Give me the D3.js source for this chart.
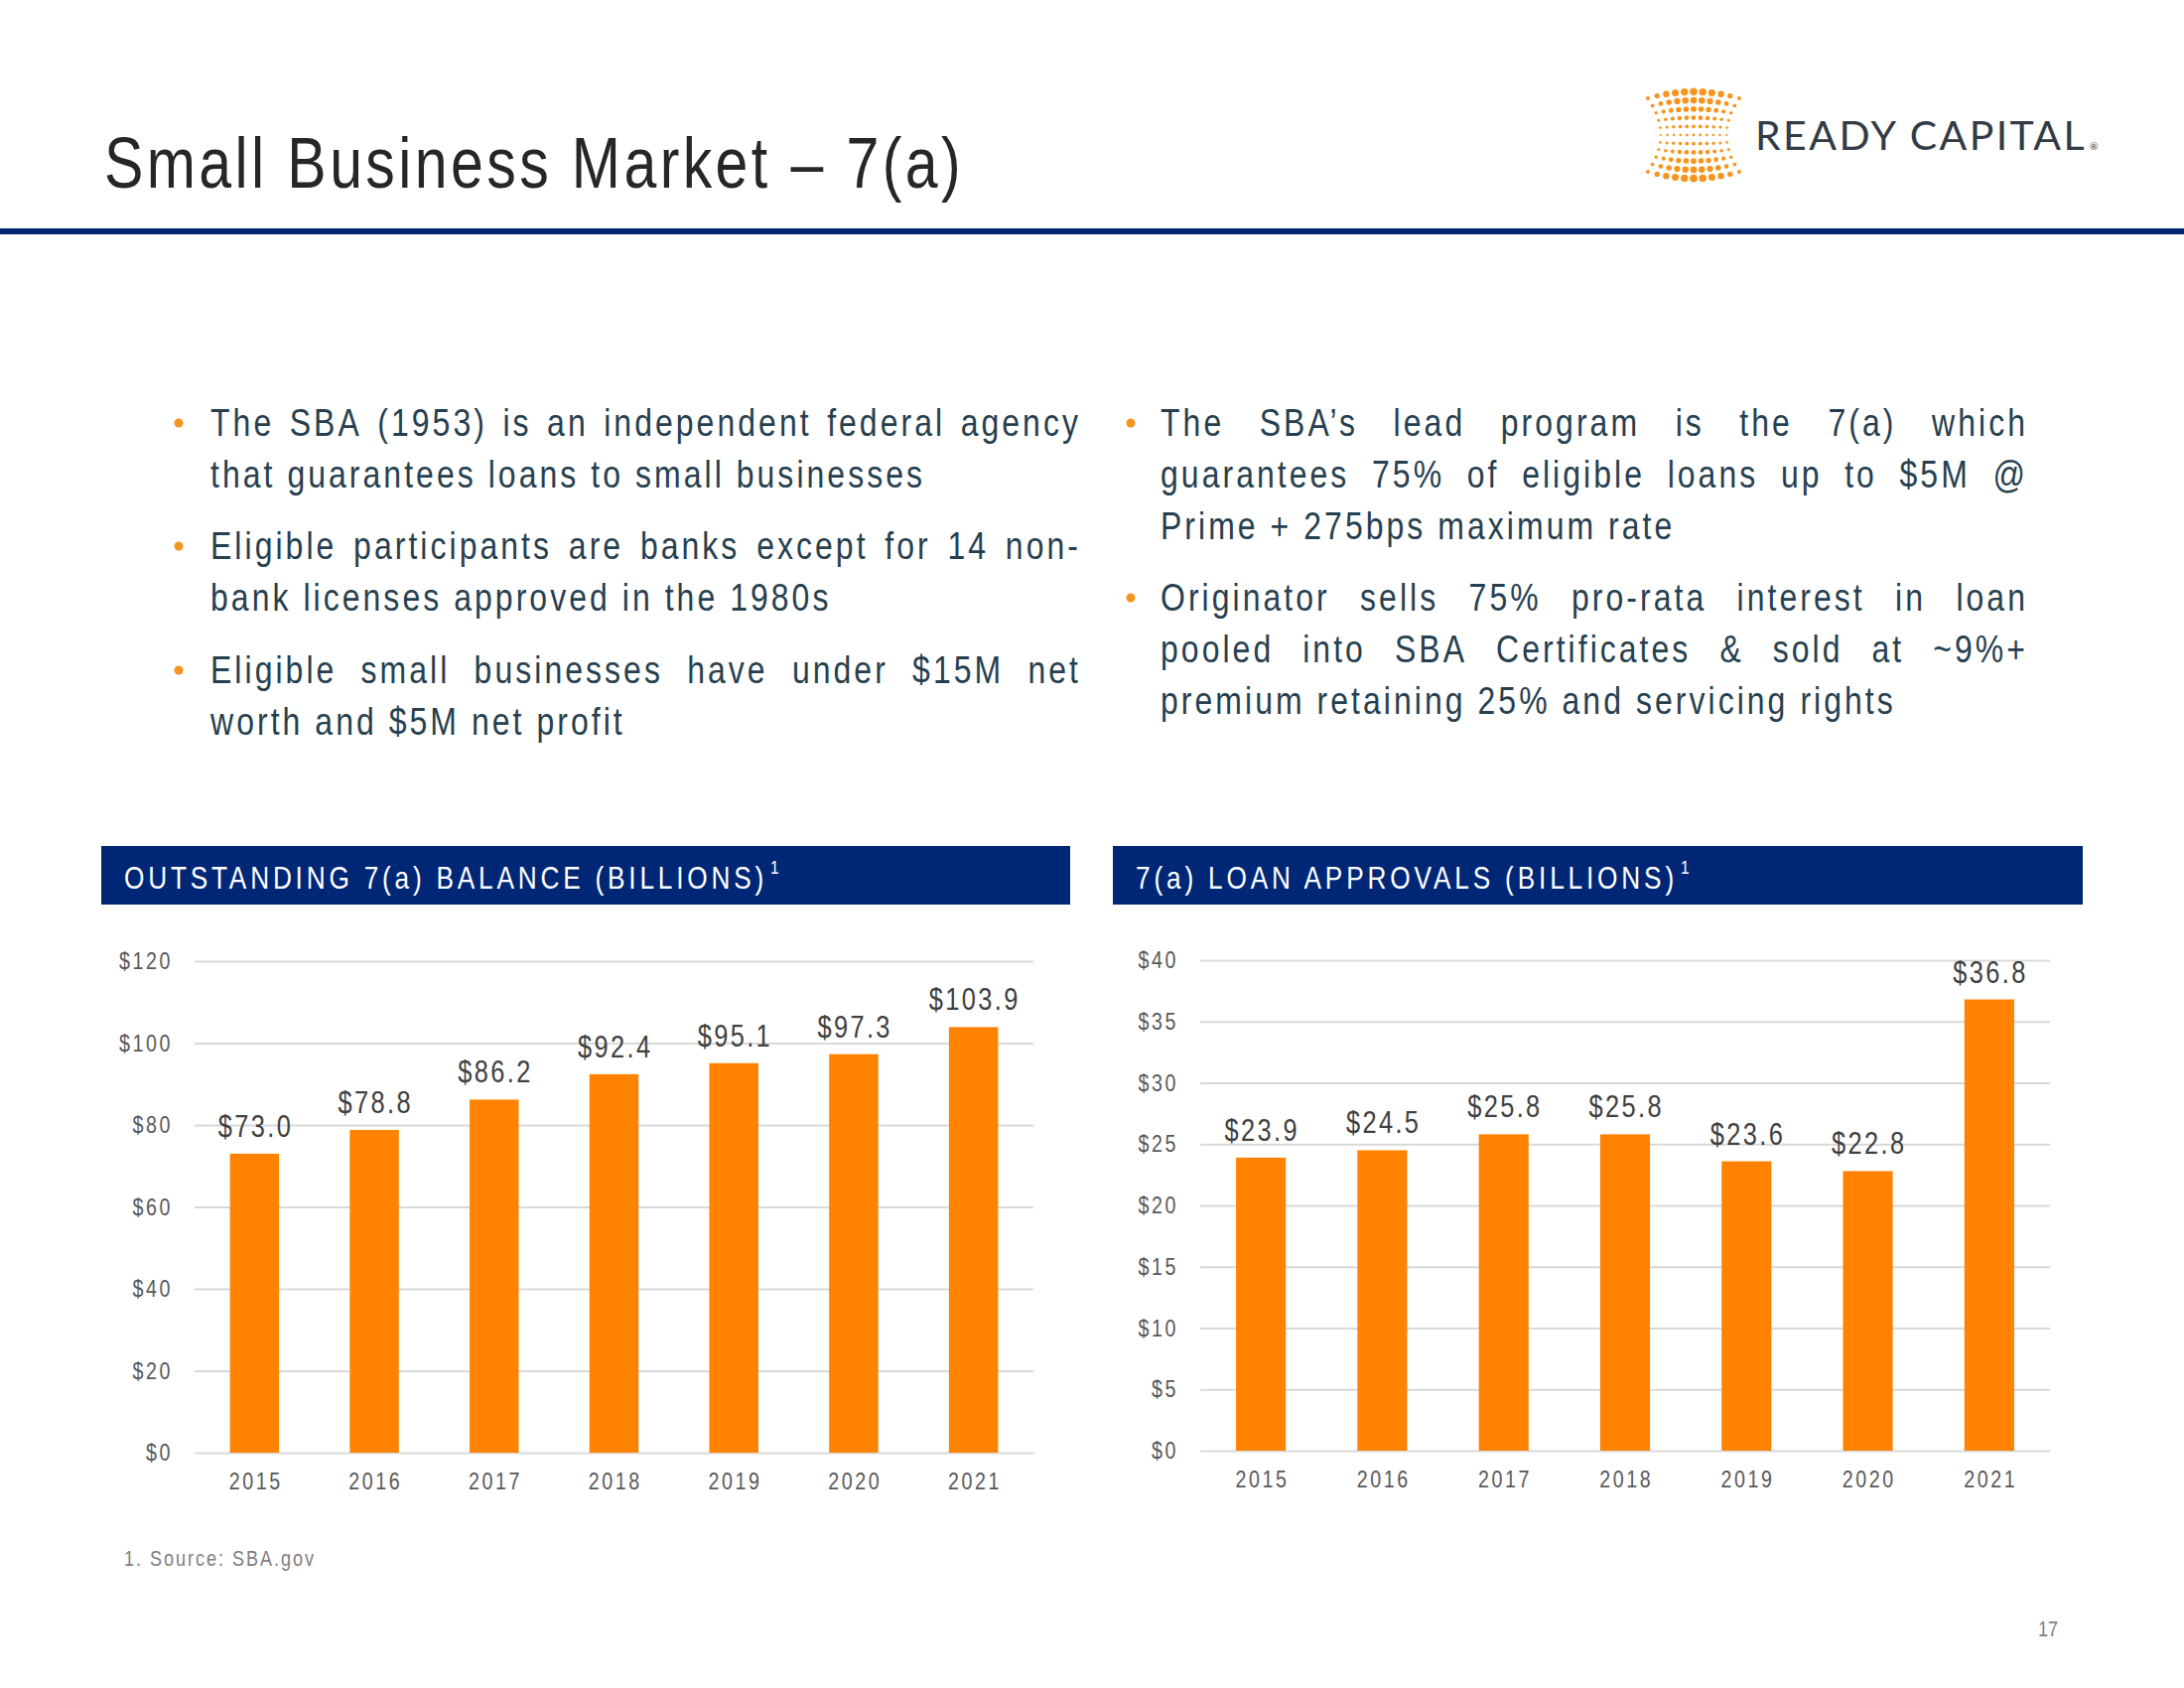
<!DOCTYPE html>
<html><head><meta charset="utf-8">
<script src="https://cdn.jsdelivr.net/npm/d3@7"></script>
<style>body{margin:0;background:#fff} svg{display:block}</style>
</head><body>
<svg id="c" width="2200" height="1700"></svg>
<script>
// ---------- data ----------
const years = ["2015","2016","2017","2018","2019","2020","2021"];
const balanceValues = [73.0, 78.8, 86.2, 92.4, 95.1, 97.3, 103.9];
const approvalValues = [23.9, 24.5, 25.8, 25.8, 23.6, 22.8, 36.8];
const balanceTicks = [0, 20, 40, 60, 80, 100, 120];
const approvalTicks = [0, 5, 10, 15, 20, 25, 30, 35, 40];
const titleText = "Small Business Market \u2013 7(a)";
const leftHeader = "OUTSTANDING 7(a) BALANCE (BILLIONS)";
const rightHeader = "7(a) LOAN APPROVALS (BILLIONS)";
const leftBullets = [
  ["The SBA (1953) is an independent federal agency", "that guarantees loans to small businesses"],
  ["Eligible participants are banks except for 14 non-", "bank licenses approved in the 1980s"],
  ["Eligible small businesses have under $15M net", "worth and $5M net profit"]
];
const rightBullets = [
  ["The SBA\u2019s lead program is the 7(a) which", "guarantees 75% of eligible loans up to $5M @", "Prime + 275bps maximum rate"],
  ["Originator sells 75% pro-rata interest in loan", "pooled into SBA Certificates & sold at ~9%+", "premium retaining 25% and servicing rights"]
];
const footnote = "1. Source: SBA.gov";
const pageNumber = "17";
const logoText = "READY CAPITAL";

// ---------- style ----------
const FONT = "'Liberation Sans',Arial,sans-serif";
const SX = 0.82; // horizontal condensing to mimic a narrow face
const NAVY = "#002776";
const ORANGE = "#FF8300";
const BULLET = "#F7941D";

const svg = d3.select("#c");
svg.append("rect").attr("width", 2200).attr("height", 1700).attr("fill", "#fff");

// letter-spacing (local units) so that rendered width (after SX) equals target
function fitLS(sel, target, sx) {
  const node = sel.node();
  sel.attr("letter-spacing", 0);
  const w0 = node.getComputedTextLength();
  const n = node.textContent.length;
  const ls = (target / sx - w0) / n;
  sel.attr("letter-spacing", ls);
  return ls;
}
function narrowText(parent, x, y, size, str) {
  return parent.append("text").attr("transform", `translate(${x},${y}) scale(${SX},1)`)
    .attr("font-family", FONT).attr("font-size", size).text(str);
}
function lsFor(str, size, target) {
  const t = svg.append("text").attr("font-family", FONT).attr("font-size", size).text(str);
  const ls = fitLS(t, target, SX); t.remove(); return ls;
}

// ---------- title & rule ----------
const title = narrowText(svg, 105, 189, 72, titleText).attr("fill", "#262626");
fitLS(title, 866, SX);
svg.append("rect").attr("x", 0).attr("y", 230).attr("width", 2200).attr("height", 6).attr("fill", NAVY);

// ---------- logo ----------
const logo = svg.append("g");
const lcx = 1706, lcy = 136;
for (let i = -5; i <= 5; i++) {
  for (let j = -5; j <= 5; j++) {
    const fi = i / 5, fj = j / 5;
    const x = lcx + i * 9.2 * (1 - 0.28 * (1 - fj * fj));
    const y = lcy + j * 7.4 * (1 + 0.18 * (1 - fi * fi));
    const r = 1.1 + 2.4 * Math.abs(fj) * (1 - 0.6 * fi * fi) + 0.3 * (1 - fi * fi);
    logo.append("circle").attr("cx", x).attr("cy", y).attr("r", r).attr("fill", BULLET);
  }
}
const lt = svg.append("text").attr("x", 1768).attr("y", 151)
  .attr("font-family", "Lato, 'Open Sans', sans-serif").attr("font-size", 41)
  .attr("fill", "#333c46").text(logoText);
fitLS(lt, 334, 1);
svg.append("text").attr("x", 2105).attr("y", 151).attr("font-family", "Lato, sans-serif")
  .attr("font-size", 10).attr("fill", "#333c46").text("\u00AE");

// ---------- bullets ----------
const BFS = 39;
const bulletLS = lsFor("that guarantees loans to small businesses", BFS, 720);
function localW(str) {
  const t = svg.append("text").attr("font-family", FONT).attr("font-size", BFS)
    .attr("letter-spacing", bulletLS).text(str);
  const w = t.node().getComputedTextLength(); t.remove(); return w;
}
const spaceW = (localW("x x") - localW("xx")) * SX;

function drawParagraph(lines, x, width, baselines, bulletX) {
  const g = svg.append("g");
  g.append("circle").attr("cx", bulletX).attr("cy", baselines[0] - 13).attr("r", 4.5).attr("fill", BULLET);
  lines.forEach((line, idx) => {
    const words = line.split(" ");
    const justify = idx < lines.length - 1;
    const nodes = words.map(w => g.append("text")
      .attr("font-family", FONT).attr("font-size", BFS).attr("letter-spacing", bulletLS)
      .attr("fill", "#27404f").text(w));
    const ws = nodes.map(n => n.node().getComputedTextLength() * SX);
    const total = d3.sum(ws);
    const gap = justify && words.length > 1 ? (width - total) / (words.length - 1) : spaceW;
    let cx = x;
    nodes.forEach((n, k) => {
      n.attr("transform", `translate(${cx},${baselines[idx]}) scale(${SX},1)`);
      cx += ws[k] + gap;
    });
  });
}
drawParagraph(leftBullets[0], 212, 877, [439, 491], 180);
drawParagraph(leftBullets[1], 212, 877, [563, 615], 180);
drawParagraph(leftBullets[2], 212, 877, [688, 740], 180);
drawParagraph(rightBullets[0], 1169, 874, [439, 491, 543], 1139);
drawParagraph(rightBullets[1], 1169, 874, [615, 667, 719], 1139);

// ---------- header bars ----------
function header(x, w, label, textW) {
  svg.append("rect").attr("x", x).attr("y", 852).attr("width", w).attr("height", 59).attr("fill", NAVY);
  const t = narrowText(svg, x + 23, 895, 32, label).attr("fill", "#fff");
  fitLS(t, textW, SX);
  const end = x + 23 + textW;
  narrowText(svg, end + 3, 880, 19, "1").attr("fill", "#fff");
}
header(102, 976, leftHeader, 648);
header(1121, 977, rightHeader, 546);

// ---------- charts ----------
const VFS = 31, TFS = 24;
const valLS = lsFor("$103.9", VFS, 92);
const tickLS = lsFor("$120", TFS, 54);

function drawChart(cfg) {
  const g = svg.append("g");
  const x = d3.scaleBand().domain(years).range([cfg.x0, cfg.x1]).paddingInner(0.59).paddingOuter(0.295);
  const y = d3.scaleLinear().domain([0, cfg.max]).range([cfg.yBottom, cfg.yTop]);

  const ya = g.append("g").attr("transform", `translate(${cfg.x0},0)`)
    .call(d3.axisLeft(y).tickValues(cfg.ticks).tickSize(-(cfg.x1 - cfg.x0)).tickPadding(22)
      .tickFormat(d => "$" + d));
  ya.select(".domain").remove();
  ya.selectAll(".tick line").attr("stroke", "#d9d9d9").attr("stroke-width", 2);
  ya.selectAll(".tick text").attr("font-family", FONT).attr("font-size", TFS)
    .attr("letter-spacing", tickLS).attr("fill", "#595959")
    .attr("x", -22 / SX).attr("transform", `scale(${SX},1)`);

  const data = years.map((yr, i) => ({ yr, v: cfg.values[i] }));
  g.selectAll("rect.bar").data(data).join("rect").attr("class", "bar")
    .attr("x", d => x(d.yr)).attr("y", d => y(d.v))
    .attr("width", x.bandwidth()).attr("height", d => y(0) - y(d.v))
    .attr("fill", ORANGE);
  g.selectAll("text.val").data(data).join("text").attr("class", "val")
    .attr("transform", d => `translate(${x(d.yr) + x.bandwidth() / 2},${y(d.v) - 17}) scale(${SX},1)`)
    .attr("dx", valLS / 2)
    .attr("text-anchor", "middle").attr("font-family", FONT).attr("font-size", VFS)
    .attr("letter-spacing", valLS).attr("fill", "#404040")
    .text(d => "$" + d.v.toFixed(1));

  const xa = g.append("g").attr("transform", `translate(0,${cfg.yBottom})`)
    .call(d3.axisBottom(x).tickSize(0).tickPadding(20));
  xa.select(".domain").remove();
  xa.selectAll(".tick text").attr("font-family", FONT).attr("font-size", TFS)
    .attr("letter-spacing", tickLS).attr("fill", "#595959").attr("dx", tickLS / 2)
    .attr("transform", `scale(${SX},1)`);
}
drawChart({ x0: 196, x1: 1041, yTop: 968, yBottom: 1463, max: 120, ticks: balanceTicks, values: balanceValues });
drawChart({ x0: 1209, x1: 2065, yTop: 967, yBottom: 1461, max: 40, ticks: approvalTicks, values: approvalValues });

// ---------- footnote & page ----------
const fn = narrowText(svg, 125, 1577, 22, footnote).attr("fill", "#7f7f7f");
fitLS(fn, 193, SX);
narrowText(svg, 2063, 1648, 22, pageNumber).attr("text-anchor", "middle").attr("fill", "#7f7f7f");
</script>
</body></html>
